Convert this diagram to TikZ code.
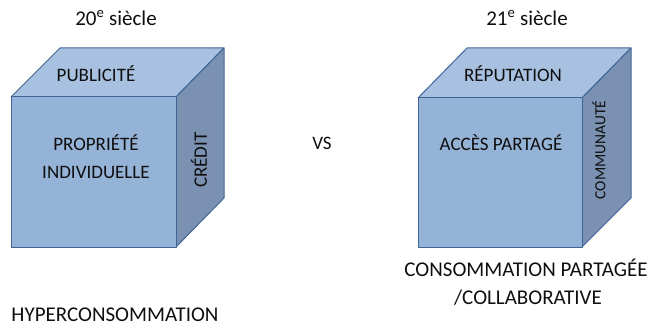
\documentclass[tikz,border=0pt]{standalone}
\usepackage{fontspec}
\setmainfont{Carlito}
\definecolor{frontc}{RGB}{149,179,215}
\definecolor{topc}{RGB}{168,193,225}
\definecolor{sidec}{RGB}{122,145,178}
\definecolor{edgec}{RGB}{65,100,150}
\definecolor{txt}{RGB}{15,15,15}
\tikzset{
  face/.style={draw=edgec, line width=1pt, line join=round},
  lbl/.style={font=\fontsize{19}{22}\selectfont, text=txt, inner sep=0pt},
  smlbl/.style={font=\fontsize{15.5}{18}\selectfont, text=txt, inner sep=0pt},
  captxt/.style={font=\fontsize{21}{25}\selectfont, text=txt, inner sep=0pt},
}
\begin{document}
\begin{tikzpicture}[x=1pt,y=-1pt]
\useasboundingbox (0,0) rectangle (654,329);
% left cube
\filldraw[face, fill=topc] (11,97) -- (60,48) -- (224,48) -- (176,97) -- cycle;
\filldraw[face, fill=sidec] (176,97) -- (224,48) -- (224,198) -- (176,247) -- cycle;
\filldraw[face, fill=frontc] (11,97) rectangle (176,247);
% right cube
\filldraw[face, fill=topc] (418,98) -- (467,48) -- (631,48) -- (582,98) -- cycle;
\filldraw[face, fill=sidec] (582,98) -- (631,48) -- (631,198) -- (582,247) -- cycle;
\filldraw[face, fill=frontc] (418,98) rectangle (582,247);
% texts
\node[captxt] (t20) at (116,18) {20\textsuperscript{e} siècle};
\node[captxt] (t21) at (527,18) {21\textsuperscript{e} siècle};
\node[lbl] (pub) at (96,74) {PUBLICITÉ};
\node[lbl] (prop) at (96,143) {PROPRIÉTÉ};
\node[lbl] (ind) at (96,172) {INDIVIDUELLE};
\node[lbl, rotate=90] (cred) at (199,160) {CRÉDIT};
\node[lbl] (vs) at (322,143) {VS};
\node[captxt] (hyper) at (115,315) {HYPERCONSOMMATION};
\node[lbl] (rep) at (513,74) {RÉPUTATION};
\node[lbl] (acc) at (501,143) {ACCÈS PARTAGÉ};
\node[smlbl, rotate=90] (comm) at (599,150) {COMMUNAUTÉ};
\node[captxt] (cons) at (526,268) {CONSOMMATION PARTAGÉE};
\node[captxt] (coll) at (528,298) {/COLLABORATIVE};
\end{tikzpicture}
\end{document}
